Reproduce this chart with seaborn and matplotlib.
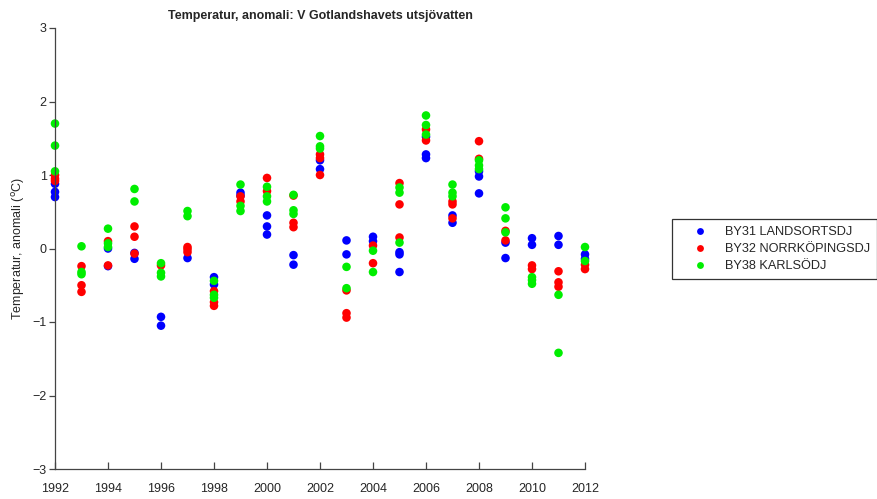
import matplotlib
matplotlib.use("Agg")
import matplotlib.pyplot as plt
import seaborn as sns
import pandas as pd

years = list(range(1992, 2013))

by31 = [
    [0.88, 0.77, 0.70],
    [],
    [0.00, -0.24],
    [-0.06, -0.14],
    [-0.93, -1.05],
    [-0.13],
    [-0.39, -0.49],
    [0.76, 0.72],
    [0.45, 0.30, 0.19],
    [-0.09, -0.22],
    [1.20, 1.08],
    [0.11, -0.08],
    [0.16, 0.10],
    [-0.05, -0.08, -0.32],
    [1.52, 1.28, 1.23],
    [0.45, 0.35],
    [1.05, 0.98, 0.75],
    [0.08, -0.13],
    [0.14, 0.05],
    [0.17, 0.05],
    [-0.08, -0.14],
]
by32 = [
    [1.00, 0.95, 0.92],
    [-0.24, -0.50, -0.59],
    [0.10, -0.23],
    [0.30, 0.16, -0.07],
    [-0.23],
    [0.02, -0.01, -0.05],
    [-0.58, -0.73, -0.78],
    [0.71, 0.64],
    [0.96, 0.78],
    [0.72, 0.35, 0.29],
    [1.28, 1.23, 1.00],
    [-0.57, -0.88, -0.94],
    [0.04, -0.20],
    [0.89, 0.60, 0.15],
    [1.62, 1.47],
    [0.64, 0.60, 0.41],
    [1.46, 1.22],
    [0.24, 0.11],
    [-0.23, -0.28],
    [-0.31, -0.46, -0.52],
    [-0.22, -0.28],
]
by38 = [
    [1.70, 1.40, 1.05],
    [0.03, -0.32, -0.35],
    [0.27, 0.07, 0.02],
    [0.81, 0.64],
    [-0.20, -0.33, -0.38],
    [0.51, 0.44],
    [-0.44, -0.63, -0.67],
    [0.87, 0.58, 0.51],
    [0.84, 0.71, 0.64],
    [0.73, 0.52, 0.47],
    [1.53, 1.39, 1.36],
    [-0.25, -0.54],
    [-0.03, -0.32],
    [0.83, 0.76, 0.08],
    [1.81, 1.68, 1.55],
    [0.87, 0.76, 0.71],
    [1.20, 1.13, 1.08],
    [0.56, 0.41, 0.22],
    [-0.39, -0.43, -0.48],
    [-0.63, -1.42],
    [0.02, -0.17],
]

series_names = ["BY31 LANDSORTSDJ", "BY32 NORRKÖPINGSDJ", "BY38 KARLSÖDJ"]
series_data = [by31, by32, by38]
colors = ["#0000ff", "#ff0000", "#00ee00"]

rows = []
for name, data in zip(series_names, series_data):
    for yr, vals in zip(years, data):
        for v in vals:
            rows.append({"year": yr, "value": v, "station": name})
df = pd.DataFrame(rows)

sns.set_style("white")
plt.rcParams["font.family"] = ["Liberation Sans", "DejaVu Sans"]

fig = plt.figure(figsize=(8.78, 4.99), dpi=100)
ax = fig.add_axes([55 / 878, 1 - 469 / 499, 530 / 878, 441 / 499])

sns.scatterplot(data=df, x="year", y="value", hue="station",
                hue_order=series_names, palette=colors,
                s=38, linewidth=0, edgecolor="none", alpha=1.0,
                ax=ax, legend=True, clip_on=False)

ax.set_xlim(1992, 2012)
ax.set_ylim(-3, 3)
ax.set_xticks(range(1992, 2013, 2))
ax.set_yticks(range(-3, 4))
ax.set_yticklabels(["\u22123", "\u22122", "\u22121", "0", "1", "2", "3"])
ax.set_xlabel("")
ax.set_ylabel(r"Temperatur, anomali ($^{\rm o}$C)", fontsize=9, labelpad=4)
ax.set_title("Temperatur, anomali: V Gotlandshavets utsjövatten",
             fontsize=9, fontweight="bold", pad=6.5)

for side in ["top", "right"]:
    ax.spines[side].set_visible(False)
for side in ["left", "bottom"]:
    ax.spines[side].set_color("#444444")
    ax.spines[side].set_linewidth(0.9)

ax.tick_params(axis="x", direction="in", length=5, width=0.9, color="#444444",
               labelsize=9, pad=10, bottom=True)
ax.tick_params(axis="y", direction="out", length=4, width=0.9, color="#444444",
               labelsize=9, pad=2, left=True)
ax.grid(False)

leg = ax.legend(loc="upper left", bbox_to_anchor=(672 / 878, 1 - 219 / 499),
                bbox_transform=fig.transFigure, borderaxespad=0,
                frameon=True, fancybox=False, fontsize=9.2,
                handletextpad=0.3, borderpad=0.55, labelspacing=0.4,
                markerscale=0.8, handlelength=3.3)
leg.get_frame().set_edgecolor("black")
leg.get_frame().set_linewidth(0.9)

fig.savefig("out.png", dpi=100)
